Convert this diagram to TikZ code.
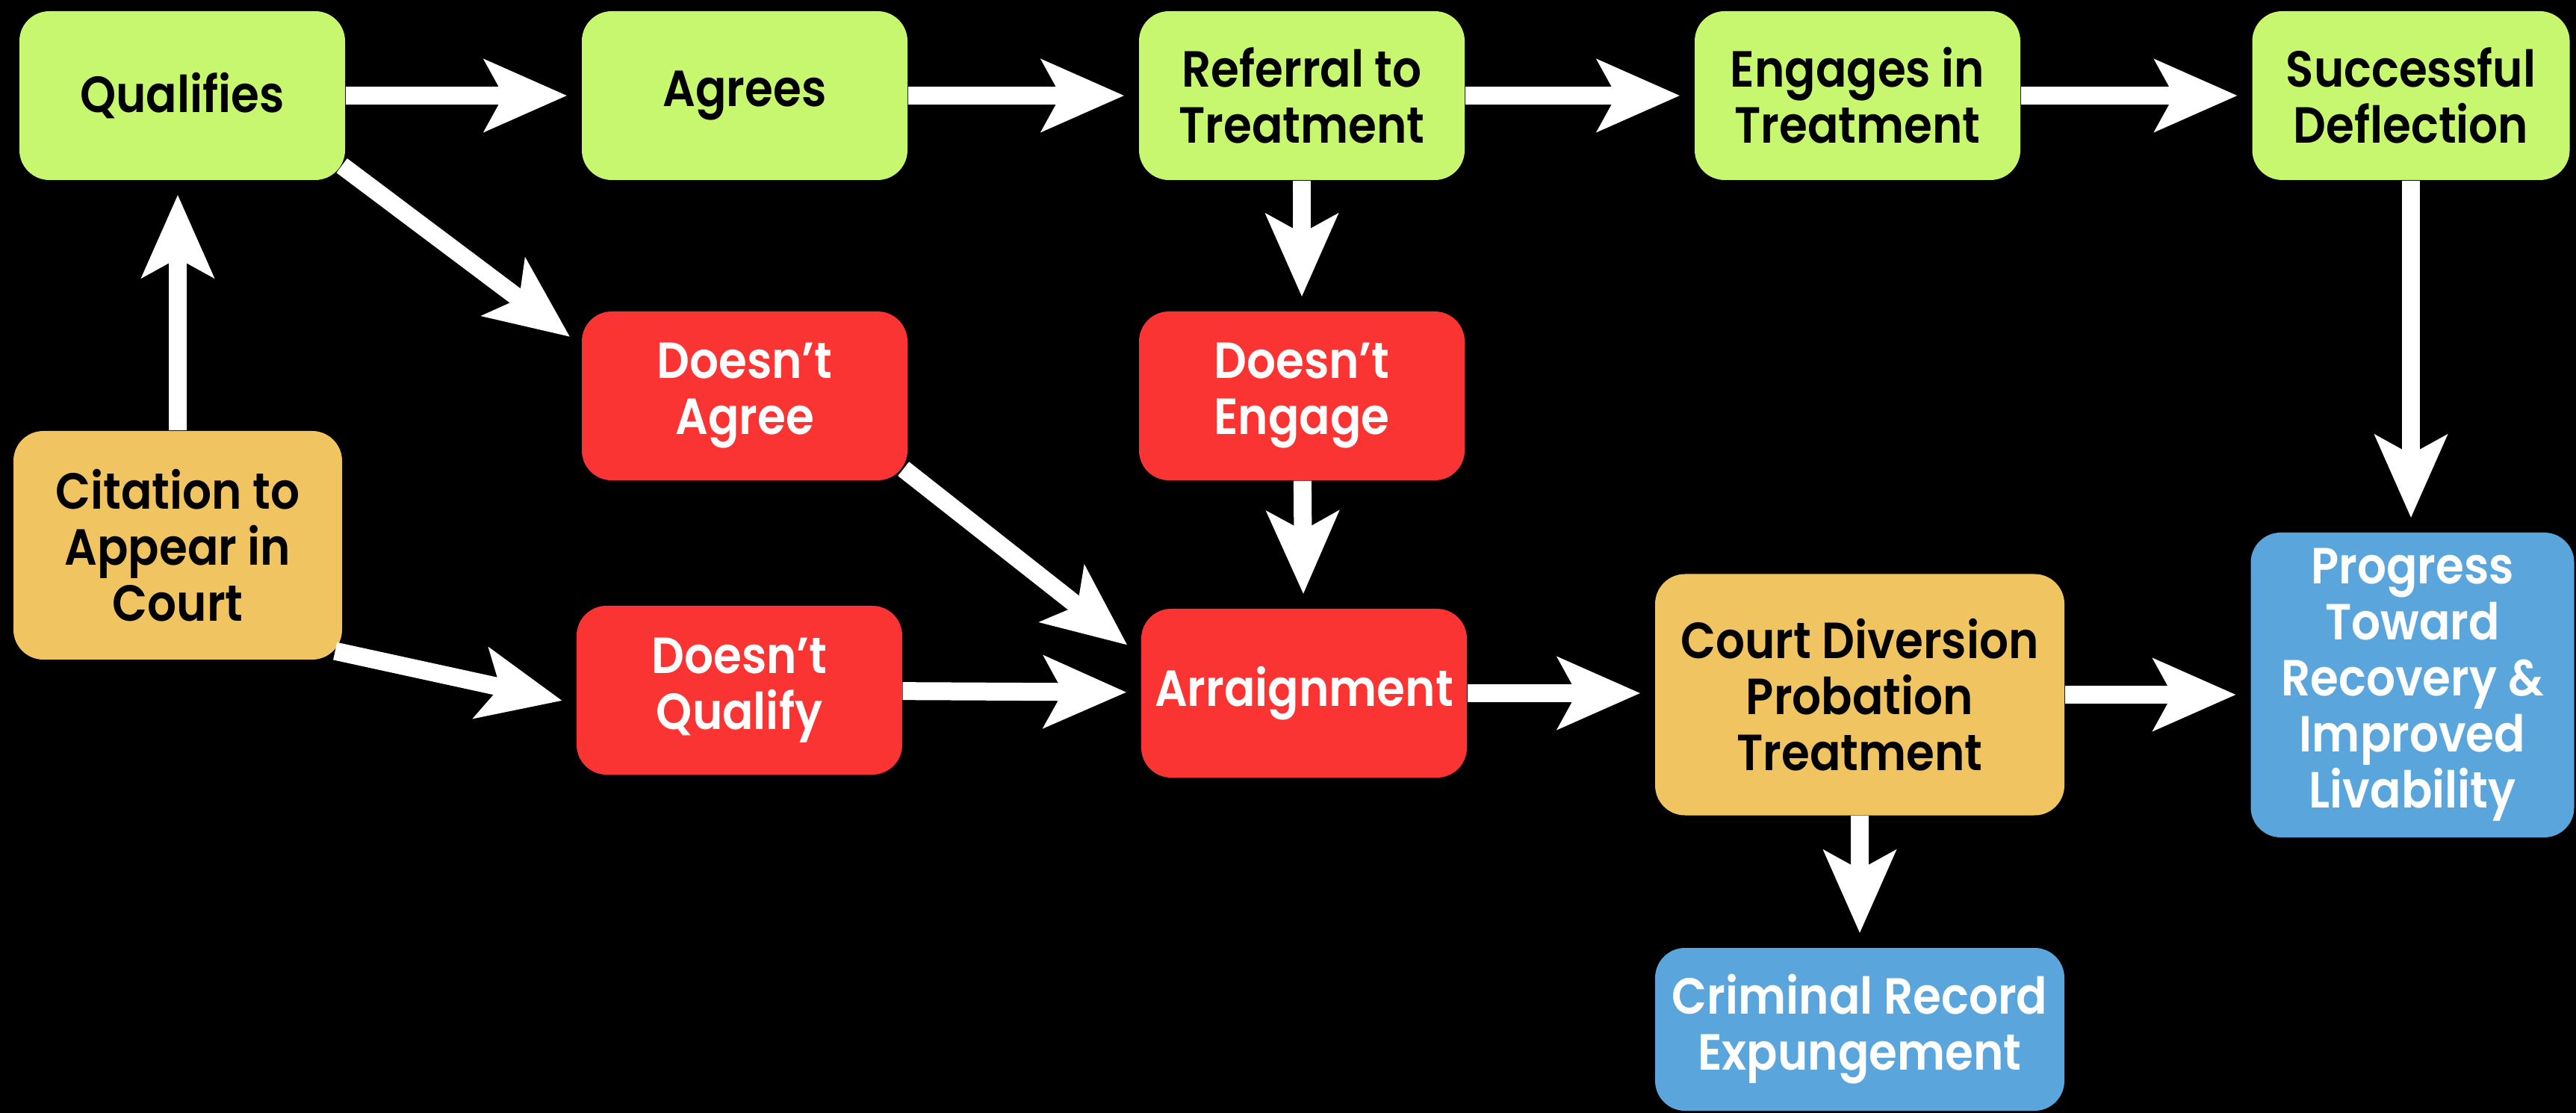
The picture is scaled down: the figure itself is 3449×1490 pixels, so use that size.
\documentclass[tikz,border=0pt]{standalone}
\usepackage{fontspec}
\setmainfont{Poppins}[UprightFont={* SemiBold}, FakeStretch=0.9]
\usetikzlibrary{arrows.meta, calc}
\definecolor{boxgreen}{HTML}{C6F76E}
\definecolor{boxred}{HTML}{FA3432}
\definecolor{boxorange}{HTML}{F0C460}
\definecolor{boxblue}{HTML}{5AA6DC}

\begin{document}
\begin{tikzpicture}[x=0.3pt, y=0.3pt, yscale=-1, xscale=1,
  box/.style={rounded corners=12pt, inner sep=0pt, align=center, minimum width=130.8pt, minimum height=67.8pt, font=\fontsize{20.4}{22.5}\selectfont},
  gbox/.style={box, fill=boxgreen, text=black},
  rbox/.style={box, fill=boxred, text=white},
  obox/.style={box, fill=boxorange, text=black},
  bbox/.style={box, fill=boxblue, text=white},
  arr/.style={draw=white, line width=7.2pt, -{Stealth[length=33pt, width=28.5pt, inset=7.5pt]}, shorten >=5.7pt}]
\useasboundingbox (0, 0) rectangle (3449, 1490);
\fill [black] (0, 0) rectangle (3449, 1490);
%Boxes
\draw (244, 128) node (qual) [gbox] {Qualifies};
\draw (997, 128) node (agree) [gbox] {Agrees};
\draw (1743, 128) node (refer) [gbox] {Referral to\\Treatment};
\draw (2487, 128) node (engage) [gbox] {Engages in\\Treatment};
\draw (3228, 128) node (succ) [gbox, minimum width=127.5pt] {Successful\\Deflection};
\draw (997, 530) node (dagree) [rbox] {Doesn’t\\Agree};
\draw (1743, 530) node (deng) [rbox] {Doesn’t\\Engage};
\draw (238, 730) node (cite) [obox, minimum width=132pt, minimum height=91.8pt] {Citation to\\Appear in\\Court};
\draw (990, 924) node (dq) [rbox] {Doesn’t\\Qualify};
\draw (1746, 928) node (arraign) [rbox] {Arraignment};
\draw (2490, 930) node (court) [obox, minimum width=164.4pt, minimum height=96.9pt] {Court Diversion\\Probation\\Treatment};
\draw (3230, 917) node (prog) [bbox, minimum width=129.9pt, minimum height=122.4pt] {Progress\\Toward\\Recovery \&\\Improved\\Livability};
\draw (2490, 1378) node (crim) [bbox, minimum width=164.4pt, minimum height=65.4pt] {Criminal Record\\Expungement};
%Arrows
\draw [arr] (cite.north) -- (cite.north |- qual.south);
\draw [arr] (qual) -- (agree);
\draw [arr] (agree) -- (refer);
\draw [arr] (refer) -- (engage);
\draw [arr] (engage) -- (succ);
\draw [arr] ($(qual.south east)+(-5, -20)$) -- ($(dagree.north west)+(0, 46)$);
\draw [arr] (refer) -- (deng);
\draw [arr] (deng) -- (arraign);
\draw [arr] ($(dagree.south east)+(-6, -16)$) -- ($(arraign.north west)+(-3, 61)$);
\draw [arr] ($(cite.south east)+(-10, -12)$) -- ($(dq.west)+(0, 18)$);
\draw [arr] (dq) -- (arraign);
\draw [arr] (arraign.east) -- (arraign.east -| court.west);
\draw [arr] (court.east) -- (court.east -| prog.west);
\draw [arr] (court) -- (crim);
\draw [arr] (succ) -- (succ |- prog.north);
\end{tikzpicture}
\end{document}
